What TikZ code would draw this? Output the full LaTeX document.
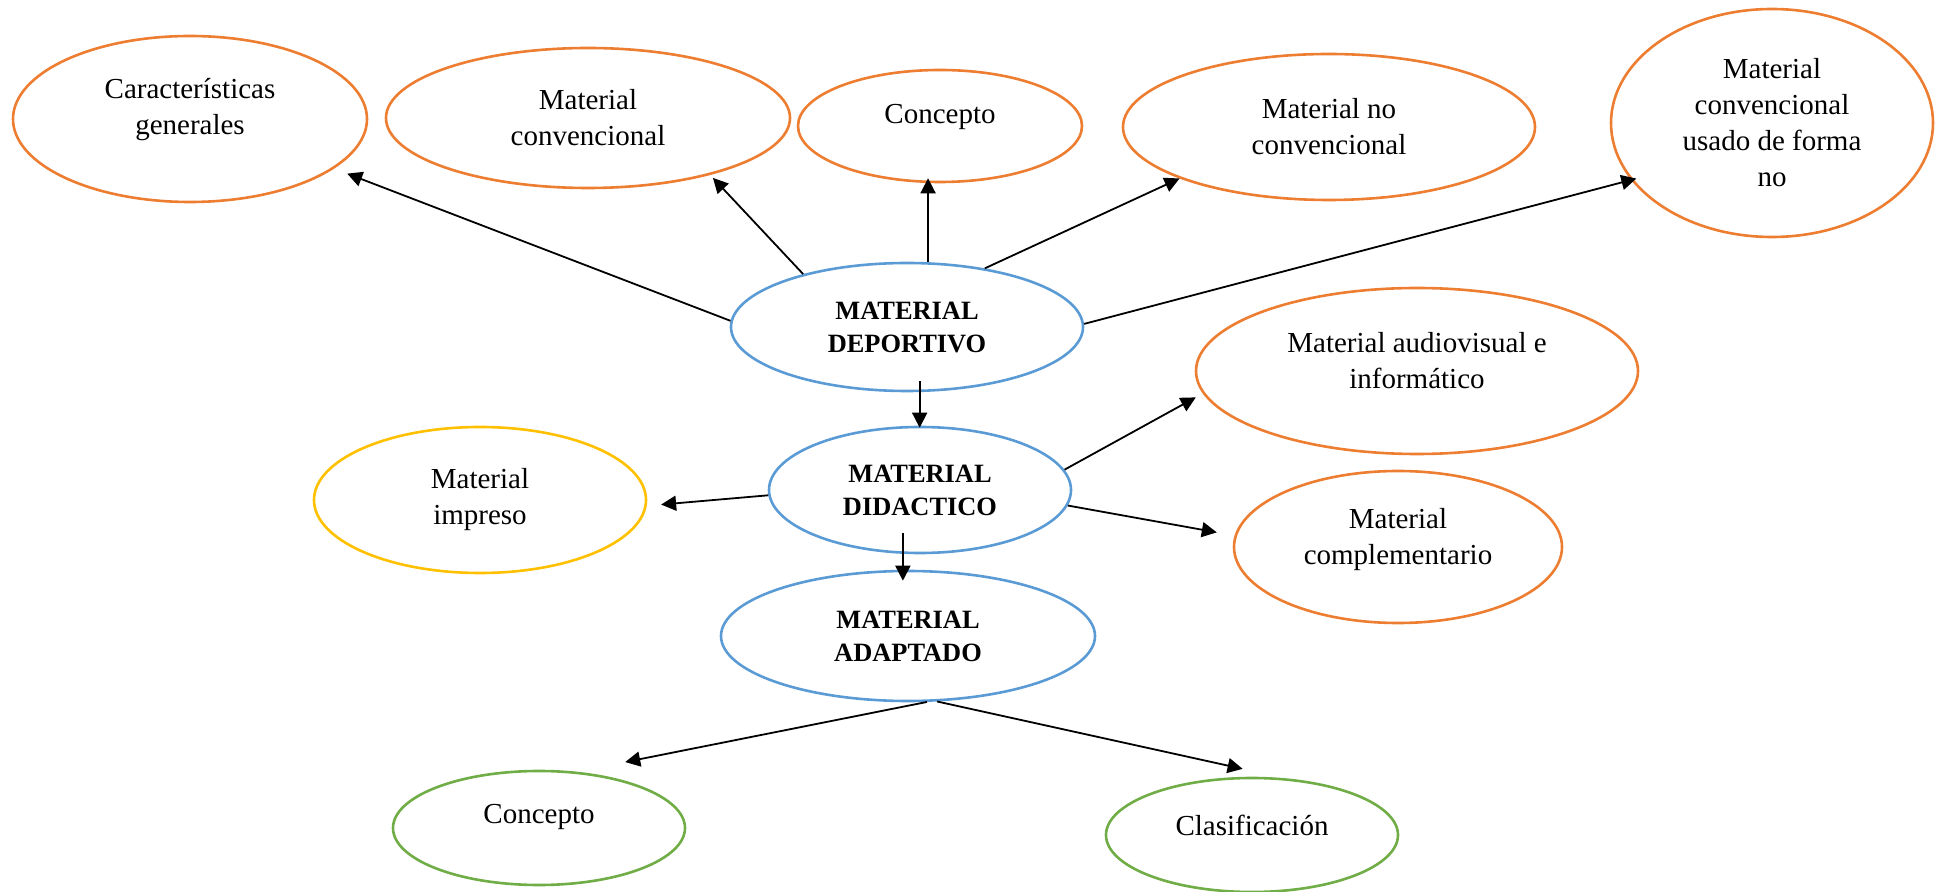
\documentclass[tikz,border=0pt]{standalone}
\usepackage{fontspec}
\setmainfont{Liberation Serif}
\usetikzlibrary{arrows.meta}
\usetikzlibrary{shapes.geometric}

\definecolor{naranja}{HTML}{ED7D31}
\definecolor{azul}{HTML}{5B9BD5}
\definecolor{amarillo}{HTML}{FFC000}
\definecolor{verde}{HTML}{70AD47}

\begin{document}
\begin{tikzpicture}[x=0.5pt,y=-0.5pt]
\useasboundingbox (0,0) rectangle (1939,892);
\begin{scope}[every node/.style={ellipse,draw,line width=1.3pt,inner sep=0pt,align=center,font=\fontsize{14.5pt}{18pt}\selectfont}]
    % fila de arriba
    \node[draw = naranja, minimum width=177pt, minimum height=83pt] (car) at (190,119) {Características\\generales\\[-5pt]\mbox{}};
    \node[draw = naranja, minimum width=202pt, minimum height=70pt] (conv) at (588,118) {Material\\convencional};
    \node[draw = naranja, minimum width=142pt, minimum height=56pt] (conc) at (940,126) {Concepto\\[-6pt]\mbox{}};
    \node[draw = naranja, minimum width=206pt, minimum height=73pt] (noconv) at (1329,127) {Material no\\convencional};
    \node[draw = naranja, minimum width=161pt, minimum height=114pt] (usado) at (1772,123) {Material\\convencional\\usado de forma\\no};
    % centro
    \node[draw = azul, font=\fontsize{13.2pt}{16.5pt}\selectfont\bfseries, minimum width=176pt, minimum height=64pt] (dep) at (907,327) {MATERIAL\\DEPORTIVO};
    \node[draw = azul, font=\fontsize{13.2pt}{16.5pt}\selectfont\bfseries, minimum width=151pt, minimum height=63pt] (did) at (920,490) {MATERIAL\\DIDACTICO};
    \node[draw = azul, font=\fontsize{13.2pt}{16.5pt}\selectfont\bfseries, minimum width=187pt, minimum height=65pt] (adap) at (908,636) {MATERIAL\\ADAPTADO};
    % lados
    \node[draw = naranja, minimum width=221pt, minimum height=83pt] (audio) at (1417,371) {Material audiovisual e\\informático\\[-7pt]\mbox{}};
    \node[draw = amarillo, minimum width=166pt, minimum height=73pt] (imp) at (480,500) {Material\\impreso};
    \node[draw = naranja, minimum width=164pt, minimum height=76pt] (compl) at (1398,547) {Material\\complementario\\[-7.8pt]\mbox{}};
    % abajo
    \node[draw = verde, minimum width=146pt, minimum height=57pt] (concb) at (539,828) {Concepto\\[-4pt]\mbox{}};
    \node[draw = verde, minimum width=146pt, minimum height=57pt] (clas) at (1252,835) {Clasificación\\[-8pt]\mbox{}};
\end{scope}

\begin{scope}[>={Triangle[length=7.5pt,width=7.5pt]},
              every edge/.style={draw,->,line width=0.9pt}]
    \path (dep.178) edge[shorten >=7pt] (car.-19);
    \path (dep.153) edge[shorten >=2pt] (conv.-25);
    \path (dep.72) edge[shorten >=-2.5pt] (dep.72 |- conc.south);
    \path (dep.37) edge (noconv.199);
    \path (dep.1) edge[shorten >=-2.8pt] (usado.202);
    \path (dep.-79) edge[shorten <=-5.5pt, shorten >=-1pt] (dep.-79 |- did.north);
    \path (did.8) edge[shorten >=4pt] (audio.186);
    \path (did.182) edge[shorten >=7.2pt] (imp.-2);
    \path (did.-6) edge[shorten >=9pt] (compl.176);
    \path (did.-105) edge[shorten <=-10.3pt, shorten >=-5.5pt] (did.-105 |- adap.north);
    \path (adap.-74) edge[shorten >=24.6pt] (concb.56);
    \path (adap.-66) edge[shorten >=21.6pt] (clas.60);
\end{scope}
\end{tikzpicture}
\end{document}
